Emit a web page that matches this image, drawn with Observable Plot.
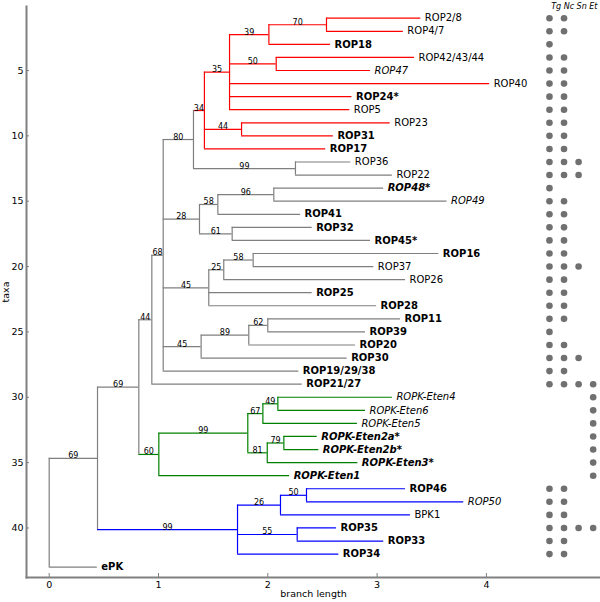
<!DOCTYPE html>
<html><head><meta charset="utf-8">
<script src="https://cdn.jsdelivr.net/npm/d3@7"></script>
<script src="https://cdn.jsdelivr.net/npm/@observablehq/plot@0.6"></script>
<style>body{margin:0;background:#fff} #chart{width:600px;height:602px}</style>
</head><body><div id="chart"></div>
<script>
// Internal nodes of the tree: id, parent, cumulative branch length, bootstrap support
const nodeIds      = ["root","A","B","C","D","E","I","K","M","O","N","L","J","F","P","R","Q","G","S","T","H","U","V","W","X","Y","AA","Z","AB","BA","BB","BD","BC"];
const nodeParents  = [null,"root","A","B","C","D","E","I","K","M","K","I","E","D","F","P","F","D","G","S","D","H","U","B","W","X","Y","X","Z","A","BA","BB","BA"];
const nodeDepths   = [0,0.442,0.82,0.939,1.043,1.32,1.42,1.65,2.01,2.537,2.077,1.76,2.253,1.375,1.543,2.055,1.674,1.46,1.597,1.866,1.39,1.826,2.0,1.003,1.817,1.955,2.092,1.995,2.147,1.723,2.116,2.354,2.269];
const nodeSupport  = [null,69,69,44,68,80,34,35,39,70,50,44,99,28,58,96,61,45,25,58,45,89,62,60,99,67,49,81,79,99,26,50,55];

// Coloured clades (subtree roots) and their colours
const cladeRoots  = ["I","W","BA"];
const cladeColors = ["#ff0000","#008000","#0000ff"];

// Leaves (taxa), top to bottom
const taxa = ["ROP2/8","ROP4/7","ROP18","ROP42/43/44","ROP47","ROP40","ROP24*","ROP5","ROP23","ROP31","ROP17","ROP36","ROP22","ROP48*","ROP49","ROP41","ROP32","ROP45*","ROP16","ROP37","ROP26","ROP25","ROP28","ROP11","ROP39","ROP20","ROP30","ROP19/29/38","ROP21/27","ROPK-Eten4","ROPK-Eten6","ROPK-Eten5","ROPK-Eten2a*","ROPK-Eten2b*","ROPK-Eten3*","ROPK-Eten1","ROP46","ROP50","BPK1","ROP35","ROP33","ROP34","ePK"];
const taxaParents = ["O","O","M","N","N","K","K","K","L","L","I","J","J","R","R","P","Q","Q","T","T","S","G","G","V","V","U","H","D","C","AA","AA","Y","AB","AB","Z","W","BD","BD","BB","BC","BC","BA","root"];
const taxaDepths  = [3.40,3.24,2.574,3.342,2.94,4.03,2.77,2.75,3.12,2.60,2.53,2.76,3.14,3.06,3.64,2.30,2.406,2.94,3.565,2.97,3.26,2.406,2.995,3.214,2.894,2.802,2.726,2.284,2.315,3.14,2.894,2.82,2.452,2.467,2.824,2.20,3.26,3.793,3.305,2.628,3.061,2.65,0.44];
// n = normal, b = bold, i = italic, bi = bold italic
const taxaStyles  = ["n","n","b","n","i","n","b","n","n","b","b","n","n","bi","i","b","b","b","b","n","n","b","b","b","b","b","b","b","b","i","i","i","bi","bi","bi","bi","b","i","n","b","b","b","b"];

// Presence in species columns
const speciesCols = ["Tg","Nc","Sn","Et"];
const presenceTg = [1,1,1,1,1,1,1,1,1,1,1,1,1,1,1,1,1,1,1,1,1,1,1,1,1,1,1,1,1,0,0,0,0,0,0,0,1,1,1,1,1,1,0];
const presenceNc = [1,1,0,1,1,1,1,1,1,1,1,1,1,0,1,1,1,1,1,1,1,1,1,1,0,1,1,1,1,0,0,0,0,0,0,0,1,1,1,1,1,1,0];
const presenceSn = [0,0,0,0,0,0,0,0,0,0,0,1,1,0,0,0,0,0,0,1,0,0,0,0,0,0,1,0,1,0,0,0,0,0,0,0,0,0,0,1,0,0,0];
const presenceEt = [0,0,0,0,0,0,0,0,0,0,0,0,0,0,0,0,0,0,0,0,0,0,0,0,0,0,0,0,1,1,1,1,1,1,1,1,0,0,0,1,0,0,0];

const xTicks = [0,1,2,3,4];
const yTicks = [5,10,15,20,25,30,35,40];

// ---- layout ----
const colX0 = 4.577, colStep = 0.1333;
const nodes = new Map();
nodeIds.forEach((id,i)=>nodes.set(id,{id,parent:nodeParents[i],x:nodeDepths[i],support:nodeSupport[i],children:[],leaf:false}));
taxa.forEach((name,i)=>nodes.set("leaf"+i,{id:"leaf"+i,name,parent:taxaParents[i],x:taxaDepths[i],y:i+1,style:taxaStyles[i],children:[],leaf:true}));
for (const n of nodes.values()) if (n.parent) nodes.get(n.parent).children.push(n);
function setY(n){ if(n.leaf) return n.y; const ys=n.children.map(setY); n.y0=Math.min(...ys); n.y1=Math.max(...ys); n.y=(n.y0+n.y1)/2; return n.y; }
setY(nodes.get("root"));
function colorOf(n){ let c=n; while(c){ const k=cladeRoots.indexOf(c.id); if(k>=0) return cladeColors[k]; c=c.parent?nodes.get(c.parent):null; } return "#7f7f7f"; }
const hSegs=[], vSegs=[], supports=[];
for (const n of nodes.values()){
  const col=colorOf(n);
  if(n.parent){ const p=nodes.get(n.parent); hSegs.push({x1:p.x,x2:n.x,y:n.y,color:col});
    if(!n.leaf && n.support!=null) supports.push({x:(p.x+n.x)/2,y:n.y,label:String(n.support)}); }
  if(!n.leaf) vSegs.push({x:n.x,y1:n.y0,y2:n.y1,color:col});
}
const leaves = taxa.map((name,i)=>({name,x:taxaDepths[i],y:i+1,style:taxaStyles[i]}));
const pres=[presenceTg,presenceNc,presenceSn,presenceEt];
const dots=[];
pres.forEach((arr,c)=>arr.forEach((v,i)=>{ if(v) dots.push({col:c,row:i+1}); }));

const font = "DejaVu Sans";
const leafText = (st, weight, fstyle) => Plot.text(leaves.filter(d=>d.style===st), {x:"x", y:"y", text:"name", textAnchor:"start", dx:4, fontSize:10, fontWeight:weight, fontStyle:fstyle, fill:"#000"});

const chart = Plot.plot({
  width:600, height:602, marginLeft:26, marginRight:0, marginTop:6, marginBottom:25,
  style:{fontFamily:font, fontSize:"9.5px", background:"#fff", color:"#000"},
  x:{domain:[-0.2077,5.044]},
  y:{domain:[0.103,43.79], reverse:true},
  marks:[
    Plot.axisX({ticks:xTicks, tickFormat:d=>String(d), tickSize:-4, tickPadding:8, stroke:"#808080", label:"branch length", labelAnchor:"center", labelArrow:"none", labelOffset:19, fontSize:9.5}),
    Plot.axisY({ticks:yTicks, tickFormat:d=>String(d), tickSize:-3, tickPadding:6, stroke:"#808080", label:"taxa", labelAnchor:"center", labelArrow:"none", labelOffset:24, fontSize:9.5}),
    Plot.frame({anchor:"left", stroke:"#808080", strokeWidth:2}),
    Plot.frame({anchor:"bottom", stroke:"#808080", strokeWidth:2}),
    Plot.ruleY(hSegs, {x1:"x1", x2:"x2", y:"y", stroke:d=>d.color, strokeWidth:1.2}),
    Plot.ruleX(vSegs, {x:"x", y1:"y1", y2:"y2", stroke:d=>d.color, strokeWidth:1.2}),
    Plot.text(supports, {x:"x", y:"y", text:"label", lineAnchor:"bottom", dy:0, fontSize:8, fill:"#000"}),
    leafText("n","normal","normal"),
    leafText("b","bold","normal"),
    leafText("i","normal","italic"),
    leafText("bi","bold","italic"),
    Plot.dot(dots, {x:d=>colX0+d.col*colStep, y:"row", r:3.3, fill:"#707070", stroke:null}),
    Plot.text([speciesCols.join(" ")], {frameAnchor:"top-right", dx:-3, dy:2, textAnchor:"end", lineAnchor:"bottom", fontSize:8, fontStyle:"italic", fill:"#000"})
  ]
});
document.getElementById("chart").appendChild(chart);
</script>
</body></html>
